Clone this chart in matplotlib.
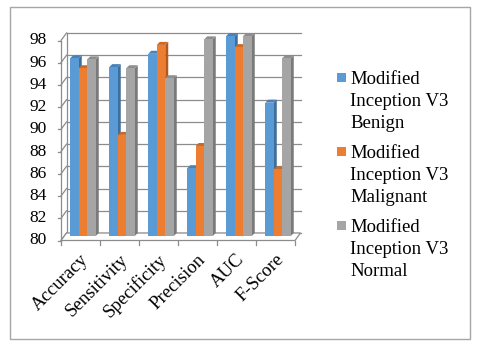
import matplotlib
matplotlib.use("Agg")
import matplotlib.pyplot as plt
from matplotlib.patches import Polygon, Rectangle
import matplotlib.transforms as mtrans
import numpy as np

categories = ["Accuracy", "Sensitivity", "Specificity", "Precision", "AUC", "F-Score"]
series_names = ["Modified Inception V3 Benign",
                "Modified Inception V3 Malignant",
                "Modified Inception V3 Normal"]
benign = [96.0, 95.2, 96.4, 86.1, 98.0, 92.0]
malignant = [95.1, 89.1, 97.2, 88.1, 97.0, 86.0]
normal = [95.9, 95.1, 94.2, 97.7, 98.0, 96.0]
y_ticks = [80, 82, 84, 86, 88, 90, 92, 94, 96, 98]

values = [benign, malignant, normal]
front_cols = ["#5B9BD5", "#ED7D31", "#A5A5A5"]
side_cols = ["#3E6E9C", "#B05A20", "#7A7A7A"]
top_cols = ["#4A82B8", "#C96A28", "#8E8E8E"]

plt.rcParams['font.family'] = ['Liberation Serif', 'DejaVu Serif']

W, H = 480, 352
fig = plt.figure(figsize=(4.8, 3.52), dpi=100)

def fx(px):
    return px / W

def fy(py):
    return 1 - py / H

# figure border
fig.patches.append(Rectangle((fx(10), fy(339)), fx(460), 332 / H,
                             transform=fig.transFigure, fill=False,
                             edgecolor="#A6A6A6", lw=1.0))

left, right, top_px, bot_px = 63.5, 297.5, 36, 236
ax = fig.add_axes([fx(left), fy(bot_px), fx(right - left), (bot_px - top_px) / H])
ax.set_xlim(0, len(categories))
ax.set_ylim(80, 98)
ax.axis("off")

px_per_x = (right - left) / len(categories)
px_per_y = (bot_px - top_px) / 18.0

def off(dx_px, dy_px):
    return mtrans.offset_copy(ax.transData, fig=fig, x=dx_px, y=dy_px, units="dots")

back = off(3, 3)
front = off(-2.5, -4.5)
grid_col = "#8C8C8C"
n = len(categories)

# back wall gridlines and left wall connectors
for t in y_ticks:
    ax.plot([0, n], [t, t], transform=back, color=grid_col, lw=0.9, clip_on=False, zorder=1)
    p0 = front.transform((0, t))
    p1 = back.transform((0, t))
    ax.plot([p0[0], p1[0]], [p0[1], p1[1]], transform=None, color=grid_col, lw=0.9,
            clip_on=False, zorder=1)
    ax.plot([p0[0] - 3, p0[0]], [p0[1], p0[1]], transform=None, color=grid_col, lw=0.9,
            clip_on=False, zorder=1)
    ax.text(0, t, str(t), transform=off(-17, -4.5), ha="right", va="center",
            fontsize=12.5, color="#000000")

# left wall vertical lines
ax.plot([0, 0], [80, 98], transform=front, color=grid_col, lw=0.9, clip_on=False, zorder=1)
ax.plot([0, 0], [80, 98], transform=back, color=grid_col, lw=0.9, clip_on=False, zorder=1)

# floor
fl = [front.transform((0, 80)), front.transform((n, 80)),
      back.transform((n, 80)), back.transform((0, 80))]
floor = Polygon(fl, closed=True, transform=None, facecolor="white",
                edgecolor=grid_col, lw=0.9, zorder=1.5, clip_on=False)
ax.add_patch(floor)

# x ticks on front plane
for i in range(n + 1):
    p = front.transform((i, 80))
    ax.plot([p[0], p[0]], [p[1], p[1] - 4], transform=None, color=grid_col, lw=0.9,
            clip_on=False)

# category labels
for i, c in enumerate(categories):
    ax.text(i + 0.5, 80, c, transform=off(-3, -15), rotation=45,
            rotation_mode="anchor", ha="right", va="top", fontsize=13.5)

# bars
bw = 0.218
dx = 3.0 / px_per_x
dy = 3.0 / px_per_y
for ci in range(n):
    for si in range(3):
        v = values[si][ci]
        xc = ci + 0.5 + (si - 1) * bw
        x0, x1 = xc - bw / 2, xc + bw / 2
        z = 2 + ci * 0.1 + si * 0.01
        side = Polygon([(x1, 80), (x1 + dx, 80 + dy), (x1 + dx, v + dy), (x1, v)],
                       closed=True, facecolor=side_cols[si], edgecolor="none",
                       zorder=z, clip_on=False)
        topf = Polygon([(x0, v), (x0 + dx, v + dy), (x1 + dx, v + dy), (x1, v)],
                       closed=True, facecolor=top_cols[si], edgecolor="none",
                       zorder=z, clip_on=False)
        ax.add_patch(side)
        ax.add_patch(topf)
        ax.bar(xc, v - 80, bottom=80, width=bw, color=front_cols[si],
               zorder=z + 0.001, clip_on=False, linewidth=0)

# legend (manual)
leg_y0 = [77, 151, 225]
for si, name in enumerate(series_names):
    parts = ["Modified", "Inception V3", name.split("Inception V3 ")[1]]
    y0 = leg_y0[si]
    fig.patches.append(Rectangle((fx(337), fy(y0 + 4.5)), fx(9), 9 / H,
                                 transform=fig.transFigure, facecolor=front_cols[si],
                                 edgecolor="none"))
    for li, line in enumerate(parts):
        fig.text(fx(350), fy(y0 + li * 22.3), line, ha="left", va="center_baseline",
                 fontsize=13.5)

fig.savefig("out.png", dpi=100)
